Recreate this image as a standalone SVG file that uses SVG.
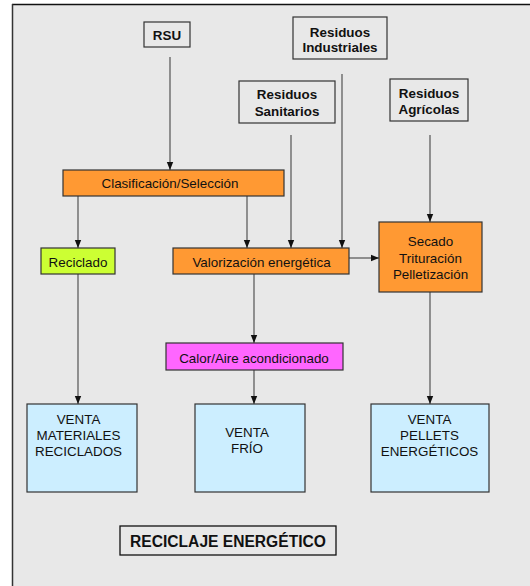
<svg xmlns="http://www.w3.org/2000/svg" width="530" height="586" viewBox="0 0 530 586">
  <defs>
    <marker id="arrow" viewBox="0 0 8 8" refX="8" refY="4" markerWidth="8" markerHeight="8" markerUnits="userSpaceOnUse" orient="auto">
      <path d="M0,0.8 L8,4 L0,7.2 Z" fill="#111"/>
    </marker>
  </defs>
  <style>
    text { font-family: "Liberation Sans", Arial, sans-serif; font-size: 13.4px; fill: #111; text-anchor: middle; }
    .b { font-weight: bold; }
    .box { stroke: #333; stroke-width: 1.2; }
    .src { fill: #e8e8e8; }
    .orange { fill: #ff9933; }
    .green { fill: #ccff33; }
    .pink { fill: #ff66ff; }
    .blue { fill: #cceeff; }
    .edge { stroke: #444; stroke-width: 1.1; fill: none; marker-end: url(#arrow); }
  </style>

  <!-- page background and frame -->
  <rect x="0" y="0" width="530" height="586" fill="#ffffff"/>
  <rect x="12" y="4" width="518" height="582" fill="#e8e8e8"/>
  <line x1="12" y1="4.5" x2="530" y2="4.5" stroke="#111" stroke-width="1.5"/>
  <line x1="12.5" y1="4" x2="12.5" y2="586" stroke="#333" stroke-width="1.5"/>

  <g id="connectors">
    <line class="edge" x1="170" y1="57" x2="170" y2="170"/>
    <line class="edge" x1="291" y1="135" x2="291" y2="248"/>
    <line class="edge" x1="342" y1="74" x2="342" y2="248"/>
    <line class="edge" x1="430" y1="135" x2="430" y2="222"/>
    <line class="edge" x1="78" y1="196" x2="78" y2="248"/>
    <line class="edge" x1="247" y1="196" x2="247" y2="248"/>
    <line class="edge" x1="349" y1="258" x2="379" y2="258"/>
    <line class="edge" x1="254" y1="274" x2="254" y2="343"/>
    <line class="edge" x1="78" y1="274" x2="78" y2="404"/>
    <line class="edge" x1="254" y1="370" x2="254" y2="404"/>
    <line class="edge" x1="430" y1="292" x2="430" y2="404"/>
  </g>

  <g id="rsu">
    <rect class="box src" x="144" y="22" width="46" height="25"/>
    <text class="b" x="167" y="39.5">RSU</text>
  </g>
  <g id="residuos-industriales">
    <rect class="box src" x="293" y="17" width="94" height="42"/>
    <text class="b" x="340" y="36.5">Residuos</text>
    <text class="b" x="340" y="52">Industriales</text>
  </g>
  <g id="residuos-sanitarios">
    <rect class="box src" x="239" y="81" width="96" height="42"/>
    <text class="b" x="287" y="99">Residuos</text>
    <text class="b" x="287" y="115.5">Sanitarios</text>
  </g>
  <g id="residuos-agricolas">
    <rect class="box src" x="390" y="79" width="78" height="42"/>
    <text class="b" x="429" y="97.5">Residuos</text>
    <text class="b" x="429" y="113.5">Agrícolas</text>
  </g>

  <g id="clasificacion">
    <rect class="box orange" x="63" y="170" width="221" height="26"/>
    <text x="170" y="188">Clasificación/Selección</text>
  </g>
  <g id="reciclado">
    <rect class="box green" x="41" y="248" width="74" height="26"/>
    <text x="78" y="266.5">Reciclado</text>
  </g>
  <g id="valorizacion">
    <rect class="box orange" x="173" y="248" width="176" height="26"/>
    <text x="261.5" y="266.5">Valorización energética</text>
  </g>
  <g id="secado">
    <rect class="box orange" x="379" y="222" width="103" height="70"/>
    <text x="430.5" y="246">Secado</text>
    <text x="430.5" y="262.5">Trituración</text>
    <text x="430.5" y="279">Pelletización</text>
  </g>
  <g id="calor">
    <rect class="box pink" x="166" y="343" width="177" height="27"/>
    <text x="254" y="362.5">Calor/Aire acondicionado</text>
  </g>

  <g id="venta-materiales">
    <rect class="box blue" x="27" y="404" width="110" height="88"/>
    <text x="78.5" y="424">VENTA</text>
    <text x="78.5" y="440">MATERIALES</text>
    <text x="78.5" y="456">RECICLADOS</text>
  </g>
  <g id="venta-frio">
    <rect class="box blue" x="195" y="404" width="110" height="88"/>
    <text x="247" y="437">VENTA</text>
    <text x="247" y="453">FRÍO</text>
  </g>
  <g id="venta-pellets">
    <rect class="box blue" x="371" y="404" width="118" height="88"/>
    <text x="429.5" y="424">VENTA</text>
    <text x="429.5" y="440">PELLETS</text>
    <text x="429.5" y="456">ENERGÉTICOS</text>
  </g>

  <g id="titulo">
    <rect x="120" y="526" width="216" height="29" fill="#e8e8e8" stroke="#111" stroke-width="1.3"/>
    <text class="b" x="228" y="547" style="font-size:15.6px">RECICLAJE ENERGÉTICO</text>
  </g>
</svg>
